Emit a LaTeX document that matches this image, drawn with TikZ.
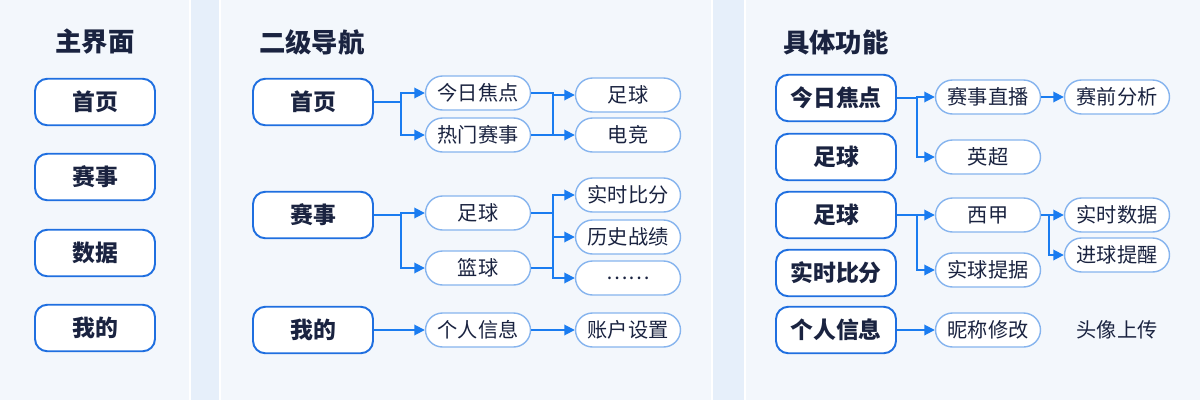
\documentclass[tikz,border=0pt]{standalone}
\usepackage{fontspec}
\setmainfont{Noto Sans CJK SC}
\usetikzlibrary{arrows.meta}
\definecolor{bgblue}{HTML}{E6EFFA}
\definecolor{linkblue}{HTML}{1A7CF0}
\definecolor{mainedge}{HTML}{1F6FE0}
\definecolor{pilledge}{HTML}{86B4EE}
\definecolor{ink}{HTML}{1A2340}
\tikzstyle{panel} = [draw=white, line width=1pt, fill=white, fill opacity=0.55, rounded corners=14pt]
\tikzstyle{title} = [anchor=west, text=ink, font=\fontsize{15}{15}\selectfont\bfseries]
\tikzstyle{main} = [rectangle, rounded corners=7pt,
minimum width=2.4cm,
minimum height=0.93cm,
text centered,
draw=mainedge, line width=1.1pt,
fill=white, text=ink,
font=\fontsize{13}{13}\selectfont\bfseries]
\tikzstyle{pill} = [rectangle, rounded corners=0.34cm,
minimum width=2.1cm,
minimum height=0.68cm,
text centered,
draw=pilledge, line width=0.8pt,
fill=white, text=ink,
font=\fontsize{11.5}{12}\selectfont]
\tikzstyle{arrow} = [linkblue, line width=1pt, -{Triangle[length=6pt,width=6pt]}]

\begin{document}
\begin{tikzpicture}[x=0.02cm, y=-0.02cm]
	\useasboundingbox (0,0) rectangle (1200,400);
	\fill[bgblue] (0,0) rectangle (1200,400);
	\begin{scope}
		\clip (0,0) rectangle (1200,400);
		\draw[panel] (-30,-30) rectangle (190,430);
		\draw[panel] (220,-30) rectangle (712,430);
		\draw[panel] (745,-30) rectangle (1230,430);
	\end{scope}
	
	% main menu
	\node[title, anchor=center] (t1) at (95,42) {主界面};
	\node (m1) [main] at (95,102) {首页};
	\node (m2) [main] at (95,177) {赛事};
	\node (m3) [main] at (95,253) {数据};
	\node (m4) [main] at (95,328) {我的};
	
	% second level
	\node[title] (t2) at (253,42) {二级导航};
	\node (n1) [main] at (313,102) {首页};
	\node (n2) [main] at (313,215) {赛事};
	\node (n3) [main] at (313,330) {我的};
	
	\node (a1) [pill] at (478,93) {今日焦点};
	\node (a2) [pill] at (478,135) {热门赛事};
	\node (a3) [pill] at (478,213) {足球};
	\node (a4) [pill] at (478,268) {篮球};
	\node (a5) [pill] at (478,330) {个人信息};
	
	\node (b1) [pill] at (628,95) {足球};
	\node (b2) [pill] at (628,135) {电竞};
	\node (b3) [pill] at (628,195) {实时比分};
	\node (b4) [pill] at (628,237) {历史战绩};
	\node (b5) [pill] at (628,278) {……};
	\node (b6) [pill] at (628,330) {账户设置};
	
	\draw [arrow] (n1.east) -- ++(27,0) |- (a1.west);
	\draw [arrow] (n1.east) -- ++(27,0) |- (a2.west);
	\draw [arrow] (a1.east) -- ++(22,0) |- (b1.west);
	\draw [arrow] (a2.east) -- ++(22,0) |- (b2.west);
	\draw [linkblue, line width=1pt] (a1.east) ++(22,0) -- ++(0,42);
	\draw [arrow] (n2.east) -- ++(27,0) |- (a3.west);
	\draw [arrow] (n2.east) -- ++(27,0) |- (a4.west);
	\draw [arrow] (a3.east) -- ++(22,0) |- (b3.west);
	\draw [arrow] (a3.east) -- ++(22,0) |- (b4.west);
	\draw [arrow] (a4.east) -- ++(22,0) |- (b5.west);
	\draw [linkblue, line width=1pt] (a3.east) ++(22,0) -- ++(0,55);
	\draw [arrow] (n3) -- (a5);
	\draw [arrow] (a5) -- (b6);
	
	% functions
	\node[title] (t3) at (777,42) {具体功能};
	\node (f1) [main] at (836,98) {今日焦点};
	\node (f2) [main] at (836,157) {足球};
	\node (f3) [main] at (836,215) {足球};
	\node (f4) [main] at (836,273) {实时比分};
	\node (f5) [main] at (836,330) {个人信息};
	
	\node (g1) [pill] at (988,97) {赛事直播};
	\node (g2) [pill] at (988,157) {英超};
	\node (g3) [pill] at (988,215) {西甲};
	\node (g4) [pill] at (988,270) {实球提据};
	\node (g5) [pill] at (988,330) {昵称修改};
	
	\node (h1) [pill] at (1117,97) {赛前分析};
	\node (h2) [pill] at (1117,215) {实时数据};
	\node (h3) [pill] at (1117,255) {进球提醒};
	\node (h4) [text=ink, font=\fontsize{11.5}{12}\selectfont] at (1117,330) {头像上传};
	
	\draw [arrow] (f1.east) -- ++(20,0) |- (g1.west);
	\draw [arrow] (f1.east) -- ++(20,0) |- (g2.west);
	\draw [arrow] (g1) -- (h1);
	\draw [arrow] (f3.east) -- ++(20,0) |- (g3.west);
	\draw [arrow] (f3.east) -- ++(20,0) |- (g4.west);
	\draw [arrow] (g3.east) -- ++(8,0) |- (h2.west);
	\draw [arrow] (g3.east) -- ++(8,0) |- (h3.west);
	\draw [arrow] (f5) -- (g5);
\end{tikzpicture}
\end{document}
